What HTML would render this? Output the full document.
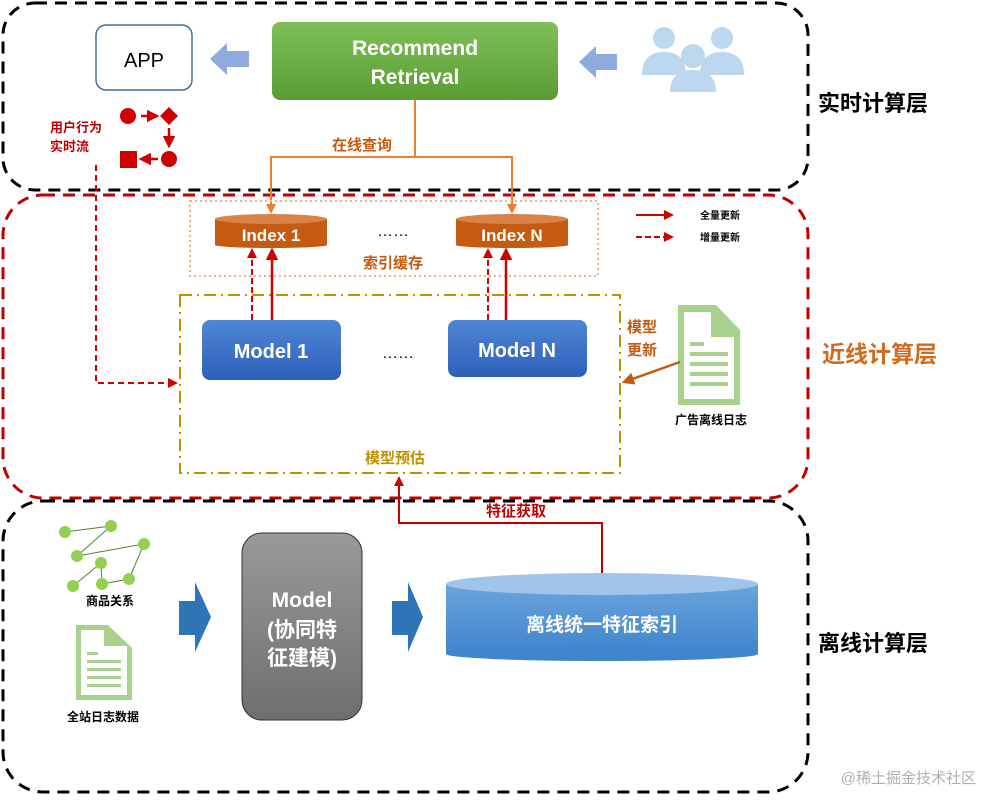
<!DOCTYPE html>
<html><head><meta charset="utf-8"><style>
body{margin:0;background:#fff}
svg text{font-family:"Liberation Sans","Noto Sans CJK SC",sans-serif}
</style></head><body>
<svg width="982" height="796" viewBox="0 0 982 796" xmlns="http://www.w3.org/2000/svg">
<defs>
<linearGradient id="gg" x1="0" y1="0" x2="0" y2="1"><stop offset="0" stop-color="#7fbf5a"/><stop offset="1" stop-color="#5a9c32"/></linearGradient>
<linearGradient id="bg" x1="0" y1="0" x2="0" y2="1"><stop offset="0" stop-color="#4f86d6"/><stop offset="1" stop-color="#2e5fb8"/></linearGradient>
<linearGradient id="gr" x1="0" y1="0" x2="0" y2="1"><stop offset="0" stop-color="#9a9a9a"/><stop offset="1" stop-color="#6e6e6e"/></linearGradient>
<linearGradient id="cy" x1="0" y1="0" x2="0" y2="1"><stop offset="0" stop-color="#6aa4dc"/><stop offset="1" stop-color="#3f85cc"/></linearGradient>
<marker id="ar" viewBox="0 0 10 10" refX="8" refY="5" markerWidth="5" markerHeight="5" orient="auto"><path d="M0,0L10,5L0,10z" fill="#d00000"/></marker>
<marker id="ao" viewBox="0 0 10 10" refX="8" refY="5" markerWidth="5" markerHeight="5" orient="auto"><path d="M0,0L10,5L0,10z" fill="#ed7d31"/></marker>
<marker id="ad" viewBox="0 0 10 10" refX="8" refY="5" markerWidth="5" markerHeight="5" orient="auto"><path d="M0,0L10,5L0,10z" fill="#c55a11"/></marker>
</defs>
<rect x="3" y="3" width="805" height="187" rx="32" fill="none" stroke="#000" stroke-width="3" stroke-dasharray="12,8"/>
<rect x="3" y="195" width="805" height="303" rx="40" fill="none" stroke="#c00000" stroke-width="3" stroke-dasharray="12,8"/>
<rect x="3" y="501" width="805" height="291" rx="40" fill="none" stroke="#000" stroke-width="3" stroke-dasharray="12,8"/>
<text x="818" y="111" font-size="22" font-weight="bold" fill="#000">实时计算层</text>
<text x="822" y="362" font-size="23" font-weight="bold" fill="#d2691e">近线计算层</text>
<text x="818" y="651" font-size="22" font-weight="bold" fill="#000">离线计算层</text>
<rect x="96" y="25" width="96" height="65" rx="10" fill="#fff" stroke="#41719c" stroke-width="1.5"/>
<text x="144" y="67" font-size="20" text-anchor="middle">APP</text>
<path d="M210,59L227,43V51H249V67H227V75z" fill="#8faadc"/>
<rect x="272" y="22" width="286" height="78" rx="8" fill="url(#gg)"/>
<text x="415" y="55" font-size="21" font-weight="bold" fill="#fff" text-anchor="middle">Recommend</text>
<text x="415" y="84" font-size="21" font-weight="bold" fill="#fff" text-anchor="middle">Retrieval</text>
<path d="M579,62L596,46V54H617V70H596V78z" fill="#8faadc"/>
<g fill="#bdd7ee"><circle cx="664" cy="38" r="11"/><circle cx="722" cy="38" r="11"/><path d="M642,75Q642,52 664,52Q686,52 686,75z"/><path d="M700,75Q700,52 722,52Q744,52 744,75z"/><circle cx="693" cy="56" r="12"/><path d="M670,92Q670,70 693,70Q716,70 716,92z"/></g>
<text x="50" y="132" font-size="13" font-weight="bold" fill="#c00000">用户行为</text>
<text x="50" y="151" font-size="13" font-weight="bold" fill="#c00000">实时流</text>
<circle cx="128" cy="116" r="8" fill="#d00000"/>
<line x1="141" y1="116" x2="157" y2="116" stroke="#d00000" stroke-width="2.5" marker-end="url(#ar)"/>
<path d="M169,107L178,116L169,125L160,116z" fill="#d00000"/>
<line x1="169" y1="128" x2="169" y2="146" stroke="#d00000" stroke-width="2.5" marker-end="url(#ar)"/>
<circle cx="169" cy="159" r="8" fill="#d00000"/>
<line x1="158" y1="159" x2="141" y2="159" stroke="#d00000" stroke-width="2.5" marker-end="url(#ar)"/>
<rect x="120" y="151" width="17" height="17" fill="#d00000"/>
<polyline points="96,165 96,383 176,383" fill="none" stroke="#d00000" stroke-width="2" stroke-dasharray="6,4" marker-end="url(#ar)"/>
<polyline points="415,100 415,157 271,157 271,212" fill="none" stroke="#ed7d31" stroke-width="2" marker-end="url(#ao)"/>
<polyline points="415,157 512,157 512,212" fill="none" stroke="#ed7d31" stroke-width="2" marker-end="url(#ao)"/>
<text x="362" y="150" font-size="15" font-weight="bold" fill="#c55a11" text-anchor="middle">在线查询</text>
<rect x="190" y="201" width="408" height="75" fill="none" stroke="#f4b183" stroke-width="2" stroke-dasharray="2,3"/>
<g><rect x="215" y="219" width="112" height="26" fill="#c55a11"/><ellipse cx="271" cy="219" rx="56" ry="5" fill="#d9834a"/><ellipse cx="271" cy="245" rx="56" ry="3" fill="#c55a11"/>
<text x="271" y="241" font-size="17" font-weight="bold" fill="#fff" text-anchor="middle">Index 1</text></g>
<g><rect x="456" y="219" width="112" height="26" fill="#c55a11"/><ellipse cx="512" cy="219" rx="56" ry="5" fill="#d9834a"/><ellipse cx="512" cy="245" rx="56" ry="3" fill="#c55a11"/>
<text x="512" y="241" font-size="17" font-weight="bold" fill="#fff" text-anchor="middle">Index N</text></g>
<text x="393" y="236" font-size="16" text-anchor="middle">……</text>
<text x="393" y="268" font-size="15" font-weight="bold" fill="#c55a11" text-anchor="middle">索引缓存</text>
<line x1="636" y1="215" x2="672" y2="215" stroke="#d00000" stroke-width="2" marker-end="url(#ar)"/>
<text x="700" y="219" font-size="10" font-weight="bold">全量更新</text>
<line x1="636" y1="237" x2="672" y2="237" stroke="#d00000" stroke-width="2" stroke-dasharray="6,3" marker-end="url(#ar)"/>
<text x="700" y="241" font-size="10" font-weight="bold">增量更新</text>
<rect x="180" y="295" width="440" height="178" fill="none" stroke="#bf9000" stroke-width="2" stroke-dasharray="12,5,2,5"/>
<rect x="202" y="320" width="139" height="60" rx="8" fill="url(#bg)"/>
<text x="271" y="358" font-size="20" font-weight="bold" fill="#fff" text-anchor="middle">Model 1</text>
<rect x="448" y="320" width="139" height="57" rx="8" fill="url(#bg)"/>
<text x="517" y="357" font-size="20" font-weight="bold" fill="#fff" text-anchor="middle">Model N</text>
<text x="398" y="358" font-size="16" text-anchor="middle">……</text>
<text x="395" y="463" font-size="15" font-weight="bold" fill="#bf9000" text-anchor="middle">模型预估</text>
<line x1="252" y1="320" x2="252" y2="250" stroke="#d00000" stroke-width="2" stroke-dasharray="6,3" marker-end="url(#ar)"/>
<line x1="272" y1="320" x2="272" y2="250" stroke="#d00000" stroke-width="2.5" marker-end="url(#ar)"/>
<line x1="488" y1="320" x2="488" y2="250" stroke="#d00000" stroke-width="2" stroke-dasharray="6,3" marker-end="url(#ar)"/>
<line x1="506" y1="320" x2="506" y2="250" stroke="#d00000" stroke-width="2.5" marker-end="url(#ar)"/>
<text x="627" y="332" font-size="15" font-weight="bold" fill="#c55a11">模型</text>
<text x="627" y="355" font-size="15" font-weight="bold" fill="#c55a11">更新</text>
<path d="M678,305H716L740,330V405H678z" fill="#a9d18e"/>
<path d="M684,312H711V337H734V399H684z" fill="#fff"/>
<g fill="#a9d18e"><rect x="690" y="342" width="14" height="4"/><rect x="690" y="352" width="38" height="4"/><rect x="690" y="362" width="38" height="4"/><rect x="690" y="372" width="38" height="4"/><rect x="690" y="382" width="38" height="4"/></g>
<text x="675" y="424" font-size="12" font-weight="bold">广告离线日志</text>
<line x1="680" y1="362" x2="624" y2="382" stroke="#c55a11" stroke-width="2.5" marker-end="url(#ad)"/>
<polyline points="602,573 602,523 399,523 399,478" fill="none" stroke="#c00000" stroke-width="2" marker-end="url(#ar)"/>
<text x="516" y="516" font-size="15" font-weight="bold" fill="#c00000" text-anchor="middle">特征获取</text>
<g stroke="#548235" stroke-width="1"><line x1="65" y1="532" x2="111" y2="526"/><line x1="111" y1="526" x2="77" y2="556"/><line x1="77" y1="556" x2="144" y2="544"/><line x1="144" y1="544" x2="129" y2="579"/><line x1="129" y1="579" x2="102" y2="584"/><line x1="102" y1="584" x2="101" y2="563"/><line x1="101" y1="563" x2="73" y2="586"/></g>
<g fill="#92d050"><circle cx="65" cy="532" r="6"/><circle cx="111" cy="526" r="6"/><circle cx="77" cy="556" r="6"/><circle cx="144" cy="544" r="6"/><circle cx="101" cy="563" r="6"/><circle cx="73" cy="586" r="6"/><circle cx="102" cy="584" r="6"/><circle cx="129" cy="579" r="6"/></g>
<text x="110" y="605" font-size="12" font-weight="bold" text-anchor="middle">商品关系</text>
<path d="M76,625H108L132,648V700H76z" fill="#a9d18e"/>
<path d="M81,630H104V646H127V695H81z" fill="#fff"/>
<g fill="#a9d18e"><rect x="87" y="652" width="11" height="3"/><rect x="87" y="660" width="34" height="3"/><rect x="87" y="668" width="34" height="3"/><rect x="87" y="676" width="34" height="3"/><rect x="87" y="684" width="34" height="3"/></g>
<text x="103" y="721" font-size="12" font-weight="bold" text-anchor="middle">全站日志数据</text>
<path d="M179,601H195V582L211,617L195,652V635H179z" fill="#2e75b6"/>
<path d="M392,601H408V582L423,617L408,652V635H392z" fill="#2e75b6"/>
<rect x="242" y="533" width="120" height="187" rx="20" fill="url(#gr)" stroke="#333" stroke-width="1"/>
<text x="302" y="607" font-size="21" font-weight="bold" fill="#fff" text-anchor="middle">Model</text>
<text x="302" y="637" font-size="21" font-weight="bold" fill="#fff" text-anchor="middle">(协同特</text>
<text x="302" y="665" font-size="21" font-weight="bold" fill="#fff" text-anchor="middle">征建模)</text>
<rect x="446" y="584" width="312" height="70" fill="url(#cy)"/>
<ellipse cx="602" cy="654" rx="156" ry="7" fill="#3f85cc"/>
<ellipse cx="602" cy="584" rx="156" ry="11" fill="#a0c4ea"/>
<text x="602" y="631" font-size="19" font-weight="bold" fill="#fff" text-anchor="middle">离线统一特征索引</text>
<text x="976" y="783" font-size="15" fill="#b0b0b0" text-anchor="end">@稀土掘金技术社区</text>
</svg>
</body></html>
